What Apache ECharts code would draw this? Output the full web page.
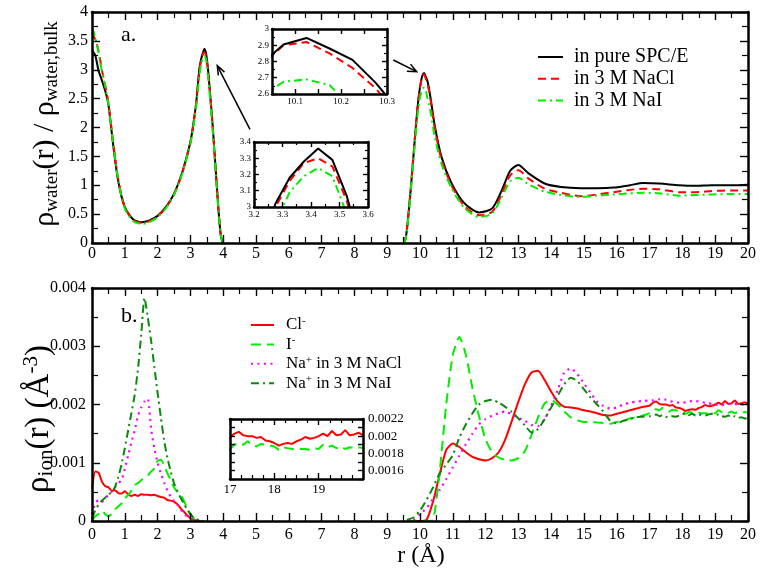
<!DOCTYPE html>
<html>
<head>
<meta charset="utf-8">
<script src="https://cdn.jsdelivr.net/npm/echarts@6/dist/echarts.min.js"></script>
<style>html,body{margin:0;padding:0;background:#fff}#c{width:762px;height:579px}</style>
</head>
<body>
<div id="c"></div>
<script>
// ---------- Panel a: water density profiles ----------
const rWater = [0,0.05,0.1,0.15,0.2,0.25,0.3,0.4,0.5,0.65,0.8,1.0,1.25,1.5,1.75,2.0,2.25,2.5,2.75,3.0,3.1,3.175,3.225,3.275,3.325,3.375,3.425,3.475,3.525,3.575,3.625,3.675,3.725,3.775,3.825,3.875,3.925,3.975,6.75,9.525,9.575,9.625,9.675,9.725,9.775,9.825,9.875,9.925,9.975,10.025,10.075,10.125,10.175,10.225,10.275,10.325,10.45,10.65,10.95,11.35,11.8,12.2,12.5,12.75,13.0,13.3,13.8,14.3,14.9,15.4,15.9,16.4,16.8,17.3,17.9,18.4,18.9,19.5,20];
const waterPure = [3.34,3.30,3.25,3.12,2.98,2.90,2.82,2.64,2.40,1.68,1.07,0.62,0.41,0.36,0.39,0.47,0.62,0.85,1.22,1.75,2.10,2.42,2.72,3.02,3.18,3.28,3.36,3.29,3.07,2.76,2.42,2.06,1.66,1.24,0.82,0.44,0.14,0.01,null,0.00,0.12,0.36,0.66,0.98,1.33,1.68,2.03,2.34,2.60,2.78,2.905,2.945,2.88,2.81,2.67,2.50,2.03,1.50,1.05,0.69,0.53,0.60,0.92,1.25,1.35,1.21,1.03,0.97,0.95,0.95,0.96,1.00,1.04,1.03,1.00,0.99,1.00,1.00,1.01];
const waterNaCl = [3.65,3.58,3.52,3.44,3.33,3.17,3.00,2.74,2.43,1.72,1.10,0.62,0.40,0.35,0.38,0.46,0.61,0.84,1.21,1.74,2.09,2.41,2.71,3.00,3.16,3.27,3.30,3.25,3.04,2.74,2.40,2.04,1.65,1.23,0.81,0.44,0.14,0.01,null,0.00,0.12,0.36,0.66,0.98,1.33,1.68,2.03,2.34,2.59,2.77,2.90,2.92,2.85,2.76,2.635,2.47,1.99,1.46,1.01,0.64,0.48,0.54,0.86,1.17,1.26,1.12,0.94,0.87,0.81,0.84,0.88,0.92,0.94,0.93,0.88,0.88,0.90,0.91,0.91];
const waterNaI = [3.72,3.66,3.56,3.43,3.29,3.13,2.98,2.72,2.40,1.70,1.08,0.60,0.38,0.33,0.36,0.45,0.60,0.83,1.20,1.72,2.05,2.35,2.62,2.90,3.09,3.19,3.24,3.19,2.96,2.66,2.33,1.98,1.60,1.20,0.80,0.44,0.15,0.02,null,0.00,0.10,0.33,0.62,0.93,1.27,1.60,1.93,2.22,2.44,2.58,2.675,2.69,2.655,2.51,2.40,2.26,1.84,1.38,0.96,0.61,0.45,0.51,0.80,1.07,1.13,1.02,0.89,0.83,0.80,0.82,0.84,0.86,0.87,0.86,0.82,0.83,0.84,0.85,0.85];
const waterNames = ['in pure SPC/E', 'in 3 M NaCl', 'in 3 M NaI'];

// ---------- Panel b: ion density profiles ----------
const rIon = [0,0.1,0.2,0.3,0.4,0.5,0.6,0.7,0.8,0.9,1.0,1.1,1.2,1.3,1.4,1.5,1.6,1.7,1.8,1.9,2.0,2.1,2.2,2.3,2.4,2.5,2.6,2.7,2.8,2.9,3.0,3.1,3.2,3.3,3.4,
  6.5,
  9.6,9.8,10.0,10.2,10.4,10.6,10.8,11.0,11.2,11.4,11.6,11.8,12.0,12.2,12.4,12.6,12.8,13.0,13.2,13.4,13.6,13.8,14.0,14.2,14.4,14.6,14.8,15.0,15.2,15.4,15.6,15.8,16.0,16.2,16.4,16.6,16.8,17.0,
  17.1,17.2,17.3,17.4,17.5,17.6,17.7,17.8,17.9,18.0,18.1,18.2,18.3,18.4,18.5,18.6,18.7,18.8,18.9,19.0,19.1,19.2,19.3,19.4,19.5,19.6,19.7,19.8,19.9,20.0];
const ionCl = [0.00055,0.00085,0.00083,0.00068,0.0006,0.00058,0.00052,0.00053,0.00048,0.00047,0.00051,0.00046,0.00043,0.00045,0.00043,0.00046,0.00045,0.00045,0.00044,0.00045,0.00043,0.00041,0.0004,0.00036,0.00035,0.00033,0.00029,0.00022,0.00016,0.0001,0.00005,0.00002,0.00001,0,0,
  null,
  0,0,0,0.00002,0.00034,0.0008,0.00122,0.00133,0.00127,0.00118,0.0011,0.00106,0.00104,0.00108,0.00118,0.0014,0.00172,0.00205,0.00235,0.00255,0.00258,0.00242,0.00222,0.00205,0.00196,0.00195,0.00193,0.0019,0.00188,0.00185,0.00182,0.00181,0.00184,0.00187,0.0019,0.00193,0.00196,0.00198,
  0.00203,0.00205,0.00201,0.002,0.002,0.00198,0.00199,0.00195,0.00194,0.00192,0.00189,0.00191,0.00192,0.00191,0.00194,0.00196,0.00199,0.00197,0.00198,0.002,0.00203,0.002,0.00206,0.00201,0.00202,0.00207,0.00201,0.00202,0.00204,0.00201];
const ionI = [0.00002,0.00008,0.00012,0.00018,0.00012,0.00008,0.00012,0.0002,0.00025,0.0003,0.00038,0.00045,0.00052,0.00062,0.00065,0.0007,0.00074,0.00078,0.00085,0.0009,0.00103,0.00105,0.00095,0.00082,0.0007,0.00058,0.0005,0.00045,0.00035,0.00022,0.00012,0.00005,0.00002,0,0,
  null,
  0,0,0,0,0.00002,0.00085,0.002,0.00285,0.00316,0.00285,0.00228,0.0018,0.0014,0.00118,0.00109,0.00105,0.00104,0.00108,0.0012,0.00148,0.00178,0.00202,0.00208,0.002,0.00188,0.00178,0.00173,0.0017,0.0017,0.00169,0.00168,0.00167,0.0017,0.00172,0.00176,0.00178,0.00181,0.00185,
  0.0019,0.00192,0.0019,0.00194,0.00189,0.00188,0.00191,0.0019,0.00189,0.00188,0.00184,0.00187,0.00186,0.00185,0.00186,0.00185,0.00185,0.00184,0.00186,0.00185,0.0019,0.00187,0.00189,0.00186,0.00188,0.00185,0.00187,0.00186,0.00187,0.00186];
const ionNaCl = [0.00012,0.0003,0.00036,0.00033,0.00038,0.00045,0.0005,0.00058,0.00065,0.0007,0.0009,0.00112,0.00135,0.00155,0.0018,0.00195,0.00205,0.0021,0.0016,0.00125,0.001,0.00082,0.00066,0.00052,0.00042,0.00035,0.00028,0.0002,0.00013,0.00008,0.00004,0.00002,0.00001,0,0,
  null,
  0,0.00002,0.00012,0.00022,0.00038,0.00053,0.00072,0.00092,0.00112,0.00132,0.0015,0.00166,0.00175,0.00181,0.00185,0.00188,0.00183,0.00177,0.00172,0.00165,0.00163,0.00175,0.00198,0.00225,0.00255,0.00262,0.00252,0.00236,0.0022,0.00205,0.00197,0.00193,0.00195,0.002,0.00203,0.00205,0.00206,0.00207,
  0.00207,0.00208,0.00209,0.0021,0.00208,0.00206,0.00205,0.00204,0.00203,0.00203,0.00204,0.00205,0.00206,0.00206,0.00205,0.00204,0.00203,0.00202,0.00201,0.002,0.00199,0.00199,0.002,0.00201,0.00202,0.00201,0.002,0.002,0.002,0.002];
const ionNaI = [0.00005,0.00018,0.00028,0.00035,0.0004,0.00045,0.0005,0.00058,0.00075,0.00097,0.00125,0.00155,0.00185,0.00216,0.0026,0.0032,0.00383,0.0035,0.0031,0.00265,0.0022,0.00178,0.00138,0.00108,0.00085,0.00065,0.00052,0.0004,0.0003,0.0002,0.00012,0.00006,0.00003,0.00001,0,
  null,
  0.00002,0.00006,0.00018,0.00036,0.00058,0.00082,0.00097,0.00113,0.00143,0.00166,0.00185,0.002,0.00206,0.00208,0.00203,0.00196,0.00187,0.00176,0.00164,0.00152,0.00158,0.00175,0.00195,0.00215,0.00235,0.00246,0.0024,0.00226,0.00212,0.002,0.00187,0.00172,0.00168,0.00172,0.00175,0.00178,0.00179,0.0018,
  0.00181,0.00183,0.0018,0.00182,0.00179,0.00178,0.0018,0.00179,0.00181,0.00183,0.00185,0.00182,0.00184,0.00181,0.00183,0.00182,0.00181,0.00183,0.00184,0.00182,0.00183,0.0018,0.00179,0.00181,0.00178,0.0018,0.00177,0.00178,0.00176,0.00177];
const ionNames = ['Cl-', 'I-', 'Na+ in 3 M NaCl', 'Na+ in 3 M NaI'];

// tick-label sets
const inset1XLabels = [10.1, 10.2, 10.3];
const inset3XLabels = [17, 18, 19];
const inset3YLabels = [0.0016, 0.0018, 0.002, 0.0022];

const FONT = '"Liberation Serif", "Times New Roman", Times, serif';
const pairs = (xs, ys) => xs.map((x, i) => [x, ys[i]]);

function axis(gi, pos, c, showLabel, z) {
  return {
    type: 'value', gridIndex: gi, position: pos, min: c.min, max: c.max, interval: c.interval, z: z,
    axisLine: { show: true, onZero: false, lineStyle: { color: '#000', width: c.lineW } },
    axisTick: { show: true, inside: true, length: c.tickLen, lineStyle: { color: '#000', width: 1.4 } },
    minorTick: { show: !!c.minor, splitNumber: c.minor || 2, length: c.minorLen, lineStyle: { color: '#000', width: 1.2 } },
    splitLine: { show: false }, minorSplitLine: { show: false },
    axisLabel: { show: showLabel, color: '#000', fontFamily: FONT, fontSize: c.fontSize, margin: c.margin,
      formatter: c.formatter, showMinLabel: true, showMaxLabel: true, hideOverlap: false }
  };
}
const xAxes = [], yAxes = [];
function frame(gi, xc, yc, z, yLabelRight) {
  xAxes.push(axis(gi, 'bottom', xc, true, z));
  xAxes.push(axis(gi, 'top', xc, false, z));
  yAxes.push(axis(gi, yLabelRight ? 'right' : 'left', yc, true, z));
  yAxes.push(axis(gi, yLabelRight ? 'left' : 'right', yc, false, z));
}
// main panels
frame(0, { min: 0, max: 20, interval: 1, minor: 2, lineW: 2.5, tickLen: 8, minorLen: 6, fontSize: 16, margin: 3 },
         { min: 0, max: 4, interval: 0.5, minor: 2, lineW: 2.5, tickLen: 8, minorLen: 6, fontSize: 16, margin: 4 }, 3);
frame(1, { min: 0, max: 20, interval: 1, minor: 2, lineW: 2.5, tickLen: 8, minorLen: 6, fontSize: 16, margin: 6 },
         { min: 0, max: 0.004, interval: 0.001, minor: 2, lineW: 2.5, tickLen: 8, minorLen: 6, fontSize: 16, margin: 6 }, 3);
// insets
const near = (v, list) => list.some(t => Math.abs(v - t) < 1e-6);
frame(2, { min: 10.05, max: 10.3, interval: 0.05, lineW: 2.5, tickLen: 5, fontSize: 9, margin: 3,
           formatter: v => near(v, inset1XLabels) ? v.toFixed(1) : '' },
         { min: 2.6, max: 3.0, interval: 0.1, minor: 2, lineW: 2.5, tickLen: 5, minorLen: 3, fontSize: 9, margin: 3 }, 13);
frame(3, { min: 3.2, max: 3.6, interval: 0.1, minor: 2, lineW: 2.5, tickLen: 5, minorLen: 3, fontSize: 9, margin: 3 },
         { min: 3.0, max: 3.4, interval: 0.1, minor: 2, lineW: 2.5, tickLen: 5, minorLen: 3, fontSize: 9, margin: 3 }, 13);
frame(4, { min: 17, max: 20, interval: 1, minor: 4, lineW: 2.5, tickLen: 6, minorLen: 4, fontSize: 13, margin: 4,
           formatter: v => near(v, inset3XLabels) ? String(v) : '' },
         { min: 0.0015, max: 0.0022, interval: 0.0001, lineW: 2.5, tickLen: 5, fontSize: 13, margin: 5,
           formatter: v => near(v, inset3YLabels) ? String(Number(v.toFixed(4))) : '' }, 13, true);

const BLACK = '#000000', RED = '#ff0000', GREEN = '#00ee00', MAG = '#ff00ff', DKGREEN = '#0a8a0a';
function line(name, xi, data, color, type, width, z, smooth) {
  return { type: 'line', name, xAxisIndex: xi, yAxisIndex: xi, data, showSymbol: false, symbol: 'none',
    smooth: smooth || false, z, clip: true, animation: false, connectNulls: false,
    lineStyle: { color, width, type }, itemStyle: { color } };
}
const dashRed = [8, 5], dashDot = [8, 4, 2, 4], dashI = [10, 6], dots = [2, 4.5];
const wPure = pairs(rWater, waterPure), wNaCl = pairs(rWater, waterNaCl), wNaI = pairs(rWater, waterNaI);
const iCl = pairs(rIon, ionCl), iI = pairs(rIon, ionI), iNaCl = pairs(rIon, ionNaCl), iNaI = pairs(rIon, ionNaI);

const series = [
  line(waterNames[0], 0, wPure, BLACK, 'solid', 2, 2, 0.25),
  line(waterNames[1], 0, wNaCl, RED, dashRed, 2, 2, 0.25),
  line(waterNames[2], 0, wNaI, GREEN, dashDot, 2, 2, 0.25),
  line(ionNames[0], 2, iCl, RED, 'solid', 2, 2, 0.2),
  line(ionNames[1], 2, iI, GREEN, dashI, 2, 2, 0.2),
  line(ionNames[2], 2, iNaCl, MAG, dots, 2.2, 2, 0.2),
  line(ionNames[3], 2, iNaI, DKGREEN, dashDot, 2, 2, 0.2),
  // insets
  line(waterNames[2], 4, wNaI, GREEN, dashDot, 2, 12),
  line(waterNames[1], 4, wNaCl, RED, dashRed, 2, 12),
  line(waterNames[0], 4, wPure, BLACK, 'solid', 2, 12),
  line(waterNames[2], 6, wNaI, GREEN, dashDot, 2, 12),
  line(waterNames[1], 6, wNaCl, RED, dashRed, 2, 12),
  line(waterNames[0], 6, wPure, BLACK, 'solid', 2, 12),
  line(ionNames[1], 8, iI, GREEN, dashI, 2, 12),
  line(ionNames[0], 8, iCl, RED, 'solid', 2, 12)
];

const ionLegendFmt = n => {
  const m = n.match(/^(Cl|I|Na)([+-])(.*)$/);
  return '{t|' + m[1] + '}{p|' + m[2] + '}' + (m[3] ? '{t|' + m[3] + '}' : '');
};

const arrowStyle = { stroke: '#000', lineWidth: 1.5, fill: null };
const option = {
  backgroundColor: '#ffffff',
  animation: false,
  grid: [
    { left: 92, top: 12, width: 656, height: 231 },
    { left: 92, top: 288, width: 656, height: 233 },
    { left: 272, top: 29, width: 115, height: 65, show: true, backgroundColor: '#fff', borderWidth: 0, z: 10 },
    { left: 254, top: 142, width: 114, height: 65, show: true, backgroundColor: '#fff', borderWidth: 0, z: 10 },
    { left: 230, top: 419, width: 133, height: 60, show: true, backgroundColor: '#fff', borderWidth: 0, z: 10 }
  ],
  xAxis: xAxes,
  yAxis: yAxes,
  legend: [
    { data: waterNames, orient: 'vertical', left: 537, top: 46.5, padding: 0, itemWidth: 25, itemHeight: 12, itemGap: 0.7,
      selectedMode: false, itemStyle: { opacity: 0, borderWidth: 0 }, lineStyle: { width: 2 },
      textStyle: { fontFamily: FONT, fontSize: 20, color: '#000', lineHeight: 21, padding: [0, 0, 0, 6] } },
    { data: ionNames, orient: 'vertical', left: 250, top: 315.5, padding: 0, itemWidth: 23, itemHeight: 12, itemGap: 0.4,
      selectedMode: false, formatter: ionLegendFmt, itemStyle: { opacity: 0, borderWidth: 0 }, lineStyle: { width: 2 },
      textStyle: { fontFamily: FONT, fontSize: 17, color: '#000', lineHeight: 19, padding: [0, 0, 0, 7],
        rich: { t: { fontFamily: FONT, fontSize: 17, color: '#000', lineHeight: 19 },
                p: { fontFamily: FONT, fontSize: 11, color: '#000', lineHeight: 9, verticalAlign: 'top' } } } }
  ],
  series: series,
  graphic: [
    { type: 'text', x: 45, y: 124, rotation: Math.PI / 2, z: 20,
      style: { text: '{b|ρ}{s|water}{b|(r) / ρ}{s|water,bulk}', align: 'center', verticalAlign: 'middle',
        rich: { b: { fontFamily: FONT, fontSize: 30, lineHeight: 34, fill: '#000' },
                s: { fontFamily: FONT, fontSize: 19, lineHeight: 14, verticalAlign: 'bottom', fill: '#000' } } } },
    { type: 'text', x: 39, y: 419, rotation: Math.PI / 2, z: 20,
      style: { text: '{b|ρ}{s|ion}{b|(r) (Å}{p|-3}{b|)}', align: 'center', verticalAlign: 'middle',
        rich: { b: { fontFamily: FONT, fontSize: 33, lineHeight: 36, fill: '#000' },
                s: { fontFamily: FONT, fontSize: 21, lineHeight: 14, verticalAlign: 'bottom', fill: '#000' },
                p: { fontFamily: FONT, fontSize: 21, lineHeight: 12, verticalAlign: 'top', fill: '#000' } } } },
    { type: 'text', x: 421, y: 556, z: 20,
      style: { text: 'r (Å)', font: '24px ' + FONT, fill: '#000', align: 'center', verticalAlign: 'middle' } },
    { type: 'text', x: 121, y: 35, z: 20,
      style: { text: 'a.', font: '22px ' + FONT, fill: '#000', align: 'left', verticalAlign: 'middle' } },
    { type: 'text', x: 121, y: 316, z: 20,
      style: { text: 'b.', font: '22px ' + FONT, fill: '#000', align: 'left', verticalAlign: 'middle' } },
    { type: 'line', z: 20, shape: { x1: 250, y1: 129.3, x2: 217.6, y2: 66.3 }, style: arrowStyle },
    { type: 'polyline', z: 20, shape: { points: [[224.5, 72.1], [217.3, 65.7], [218.3, 75.3]] }, style: arrowStyle },
    { type: 'line', z: 20, shape: { x1: 393.3, y1: 60, x2: 416.2, y2: 71.4 }, style: arrowStyle },
    { type: 'polyline', z: 20, shape: { points: [[406.9, 71.3], [416.7, 71.7], [410.5, 64.1]] }, style: arrowStyle }
  ]
};
const chart = echarts.init(document.getElementById('c'), null, { renderer: 'canvas' });
chart.setOption(option);
</script>
</body>
</html>
